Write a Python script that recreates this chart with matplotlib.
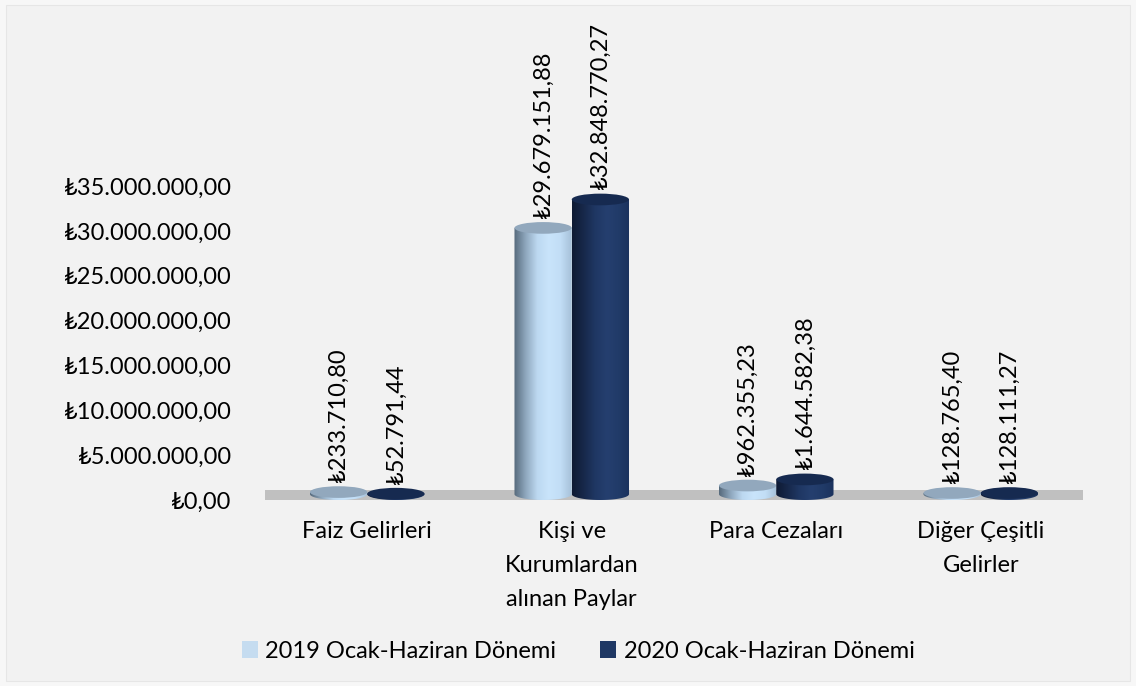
import numpy as np
import matplotlib
matplotlib.use("Agg")
import matplotlib.pyplot as plt
from matplotlib.patches import Ellipse, PathPatch, Patch, Rectangle
from matplotlib.path import Path
from matplotlib.colors import to_rgb

plt.rcParams['font.family'] = ['Lato', 'DejaVu Sans']

categories = ["Faiz Gelirleri", "Kişi ve\nKurumlardan\nalınan Paylar", "Para Cezaları", "Diğer Çeşitli\nGelirler"]
series_names = ["2019 Ocak-Haziran Dönemi", "2020 Ocak-Haziran Dönemi"]
values_2019 = [233710.80, 29679151.88, 962355.23, 128765.40]
values_2020 = [52791.44, 32848770.27, 1644582.38, 128111.27]
yticks = [0, 5e6, 10e6, 15e6, 20e6, 25e6, 30e6, 35e6]

def tl(v):
    s = f"{v:,.2f}".replace(",", "X").replace(".", ",").replace("X", ".")
    return "\u20ba" + s

side_colors = [
    ["#56697b", "#8ea7bd", "#bcd8f0", "#c9e4fb", "#c2def6", "#a6c0d8"],
    ["#0e1a33", "#17284a", "#1f3763", "#253f6f", "#213b69", "#1b325d"],
]
top_colors = ["#92a8bd", "#162a50"]
legend_colors = ["#c5dcf0", "#1f3864"]

W, H = 1136, 686
fig = plt.figure(figsize=(W / 100, H / 100), dpi=100, facecolor="#f7f7f7")
fig.patches.append(Rectangle((6 / W, 5 / H), 1 - 12 / W, 1 - 10 / H, transform=fig.transFigure,
                             facecolor="#f2f2f2", edgecolor="#e6e6e6", lw=0.8, zorder=-10))

ax = fig.add_axes([265 / W, (H - 500) / H, 818 / W, (500 - 186) / H])
ax.set_facecolor("none")
ax.set_xlim(-0.5, 3.5)
ax.set_ylim(0, 35e6)

# floor
ax.add_patch(Rectangle((-0.5, 0), 4.0, 1.1e6, facecolor="#c0c0c0", edgecolor="none", zorder=1))

bw = 0.28
eh = 1.3e6
fs = 17

def gradient_img(cols, n=200):
    rgb = np.array([to_rgb(c) for c in cols])
    xs = np.linspace(0, 1, len(cols))
    t = np.linspace(0, 1, n)
    arr = np.stack([np.interp(t, xs, rgb[:, k]) for k in range(3)], axis=-1)
    return arr[np.newaxis, :, :]

for si, vals in enumerate([values_2019, values_2020]):
    for ci, v in enumerate(vals):
        xc = ci + (si - 0.5) * bw
        x0, x1 = xc - bw / 2, xc + bw / 2
        base = eh / 2
        top = v + eh / 2
        t = np.linspace(0, -np.pi, 60)
        ex = xc + bw / 2 * np.cos(t)
        ey = base + eh / 2 * np.sin(t)
        verts = [(x0, top), (x1, top)] + list(zip(ex, ey)) + [(x0, top)]
        codes = [Path.MOVETO] + [Path.LINETO] * (len(verts) - 2) + [Path.CLOSEPOLY]
        body = PathPatch(Path(verts, codes), facecolor="none", edgecolor="none", zorder=2 + si)
        ax.add_patch(body)
        im = ax.imshow(gradient_img(side_colors[si]), extent=[x0, x1, base - eh / 2, top],
                       aspect="auto", interpolation="bilinear", zorder=2 + si)
        im.set_clip_path(body)
        ax.add_patch(Ellipse((xc, top), bw, eh, facecolor=top_colors[si], edgecolor="none", zorder=2.5 + si))
        ax.annotate(tl(v), (xc, top + eh / 2), xytext=(0, 3), textcoords="offset points",
                    rotation=90, ha="center", va="bottom", fontsize=fs, color="#000000")

ax.set_xlim(-0.5, 3.5)
ax.set_ylim(0, 35e6)
ax.set_yticks(yticks)
ax.set_yticklabels([tl(v) for v in yticks], fontsize=fs)
ax.set_xticks(range(len(categories)))
ax.set_xticklabels(categories, fontsize=fs, linespacing=1.78)
ax.tick_params(axis="y", length=0, pad=24)
ax.tick_params(axis="x", length=0, pad=15)
for s in ax.spines.values():
    s.set_visible(False)

handles = [Patch(facecolor=c, edgecolor="none") for c in legend_colors]
fig.legend(handles, series_names, loc="center", bbox_to_anchor=(578 / W, (H - 651) / H), ncol=2,
           frameon=False, fontsize=fs, handlelength=0.7, handleheight=0.7, handletextpad=0.3,
           columnspacing=1.85)

fig.savefig("out.png", dpi=100, facecolor=fig.get_facecolor())
